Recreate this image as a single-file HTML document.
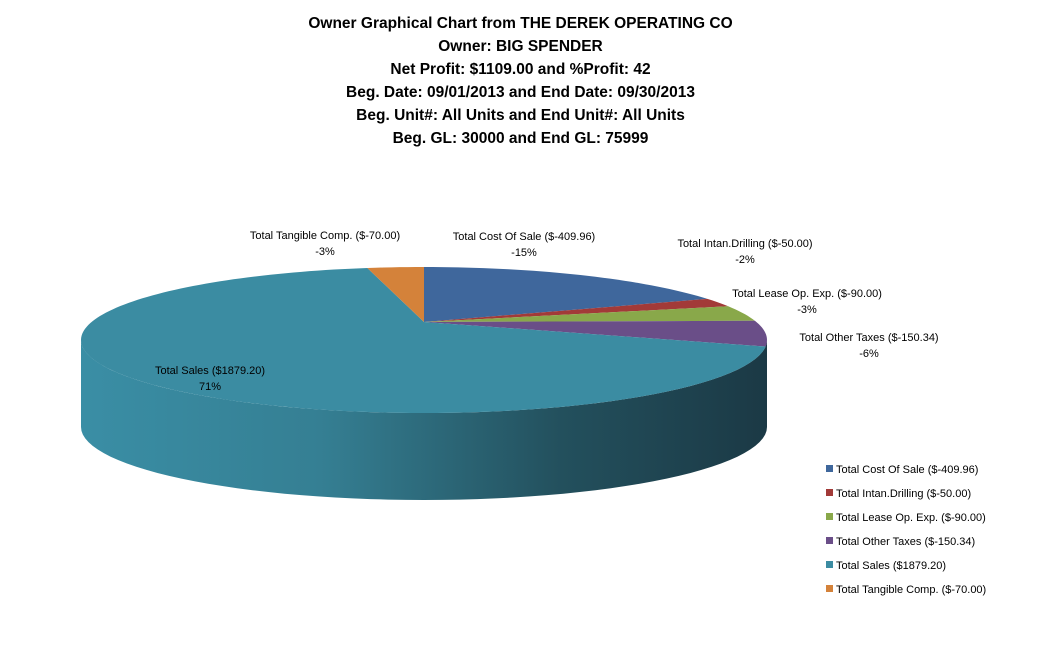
<!DOCTYPE html>
<html><head><meta charset="utf-8"><style>
body{margin:0;background:#fff;width:1041px;height:664px;overflow:hidden;font-family:"Liberation Sans",sans-serif}
#title{position:absolute;left:0;top:12px;width:1041px;text-align:center;font-weight:bold;font-size:15.5px;line-height:23px;color:#000}
</style></head><body>
<div id="title">Owner Graphical Chart from THE DEREK OPERATING CO<br>Owner: BIG SPENDER<br>Net Profit: $1109.00 and %Profit: 42<br>Beg. Date: 09/01/2013 and End Date: 09/30/2013<br>Beg. Unit#: All Units and End Unit#: All Units<br>Beg. GL: 30000 and End GL: 75999</div>
<svg id="chart" width="1041" height="664" style="position:absolute;left:0;top:0">
<defs><linearGradient id="side" x1="0" x2="1" y1="0" y2="0">
<stop offset="0" stop-color="#3a8ea5"/><stop offset="0.35" stop-color="#357f93"/><stop offset="0.7" stop-color="#23505d"/><stop offset="1" stop-color="#1b3945"/></linearGradient></defs>
<g id="slices"></g><g id="labels"></g><g id="legend"></g>
</svg>
<script>
const categories=["Total Cost Of Sale","Total Intan.Drilling","Total Lease Op. Exp.","Total Other Taxes","Total Sales","Total Tangible Comp."];
const amounts=[409.96,50.00,90.00,150.34,1879.20,70.00];
const amountLabels=["$-409.96","$-50.00","$-90.00","$-150.34","$1879.20","$-70.00"];
const pctLabels=["-15%","-2%","-3%","-6%","71%","-3%"];
const colors=["#3f679c","#a23a38","#89a84a","#6a4e88","#3b8ca2","#d4823a"];
const NS="http://www.w3.org/2000/svg";
const cx=424,cy=340,rx=343,ry=73,depth=87,ax=424,ay=322;
function pt(t){return [cx+rx*Math.sin(t),cy-ry*Math.cos(t)];}
const total=amounts.reduce((a,b)=>a+b,0);
const g=document.getElementById('slices');
// side (front half, from 90deg to 270deg)
let d=`M${cx+rx},${cy} `;
for(let i=0;i<=60;i++){const t=Math.PI/2+Math.PI*i/60;const p=pt(t);d+=`L${p[0]},${p[1]} `;}
for(let i=60;i>=0;i--){const t=Math.PI/2+Math.PI*i/60;const p=pt(t);d+=`L${p[0]},${p[1]+depth} `;}
const side=document.createElementNS(NS,'path');
side.setAttribute('d',d+'Z');side.setAttribute('fill','url(#side)');


g.appendChild(side);
let acc=0;
amounts.forEach((v,i)=>{
  const t0=acc/total*2*Math.PI;acc+=v;const t1=acc/total*2*Math.PI;
  let s=`M${ax},${ay} `;const n=Math.max(4,Math.ceil((t1-t0)*40));
  for(let k=0;k<=n;k++){const p=pt(t0+(t1-t0)*k/n);s+=`L${p[0]},${p[1]} `;}
  const el=document.createElementNS(NS,'path');
  el.setAttribute('d',s+'Z');el.setAttribute('fill',colors[i]);
  
  
  g.appendChild(el);
});
const labelPos=[[524,236],[745,243],[807,293],[869,337],[210,370],[325,235]];
const lg=document.getElementById('labels');
categories.forEach((c,i)=>{
  const tx=document.createElementNS(NS,'text');
  tx.setAttribute('x',labelPos[i][0]);tx.setAttribute('y',labelPos[i][1]+4);
  tx.setAttribute('text-anchor','middle');tx.setAttribute('font-size','11');tx.setAttribute('fill','#000');
  
  
  tx.innerHTML=`<tspan x="${labelPos[i][0]}">${c} (${amountLabels[i]})</tspan><tspan x="${labelPos[i][0]}" dy="16">${pctLabels[i]}</tspan>`;
  lg.appendChild(tx);
});
const leg=document.getElementById('legend');
categories.forEach((c,i)=>{
  const y=469+i*24;
  const r=document.createElementNS(NS,'rect');
  r.setAttribute('x',826);r.setAttribute('y',y-4);r.setAttribute('width',7);r.setAttribute('height',7);r.setAttribute('fill',colors[i]);
  
  
  leg.appendChild(r);
  const t=document.createElementNS(NS,'text');
  t.setAttribute('x',836);t.setAttribute('y',y+4);t.setAttribute('font-size','11');
  t.textContent=`${c} (${amountLabels[i]})`;
  
  
  leg.appendChild(t);
});
</script>
</body></html>
